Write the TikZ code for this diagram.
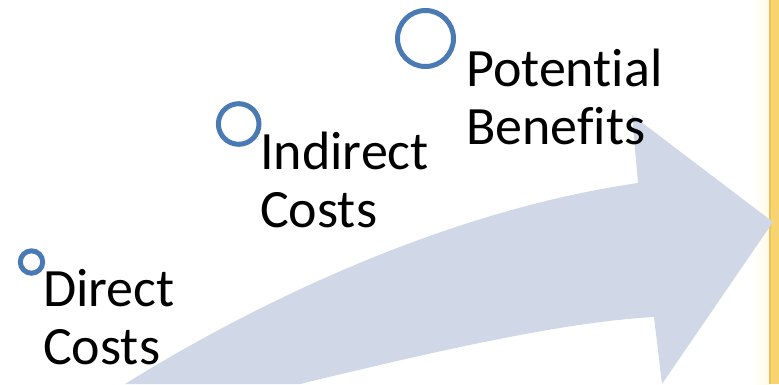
\documentclass[tikz,border=0pt]{standalone}
\usepackage{fontspec}
\setmainfont{Carlito}[Ligatures=NoCommon]
\definecolor{arrowfill}{HTML}{D0D8E8}
\definecolor{ringblue}{HTML}{4A7AB4}
\definecolor{stripyellow}{HTML}{F7D46F}
\definecolor{stripedge}{HTML}{F0C05A}
\definecolor{stripfade}{HTML}{FFF9E6}

\begin{document}
\begin{tikzpicture}[x=1pt,y=-1pt,
    ring/.style={circle,draw=ringblue,line width=5pt,inner sep=0pt},
    steptext/.style={anchor=base west,align=left,inner sep=0pt,font=\fontsize{54}{58}\selectfont}]
    \useasboundingbox (0,0) rectangle (779,384);
    \clip (0,0) rectangle (779,384);
    % strip on the right edge
    \shade[left color=white,right color=stripfade] (752,0) rectangle (769,384);
    \fill[stripedge] (769,0) rectangle (771,384);
    \fill[stripyellow] (771,0) rectangle (779,384);
    % big curved arrow
    \fill[arrowfill] (125,384) .. controls (260,300) and (450,210) .. (638,183)
        -- (632,115) -- (773,222) -- (662,384) -- (654,317)
        .. controls (560,322) and (420,355) .. (300,384) -- cycle;
    % rings
    \node[ring,minimum size=22.4pt] (directring) at (31.5,262) {};
    \node[ring,minimum size=40.6pt] (indirectring) at (238.7,124) {};
    \node[ring,minimum size=56pt] (benefitring) at (425.5,38.5) {};
    % labels (base = last line)
    \node[steptext] (direct) at (43,364) {Direct\\Costs};
    \node[steptext] (indirect) at (260,227) {Indirect\\Costs};
    \node[steptext] (benefits) at (466,144) {Potential\\Benefits};
\end{tikzpicture}
\end{document}
